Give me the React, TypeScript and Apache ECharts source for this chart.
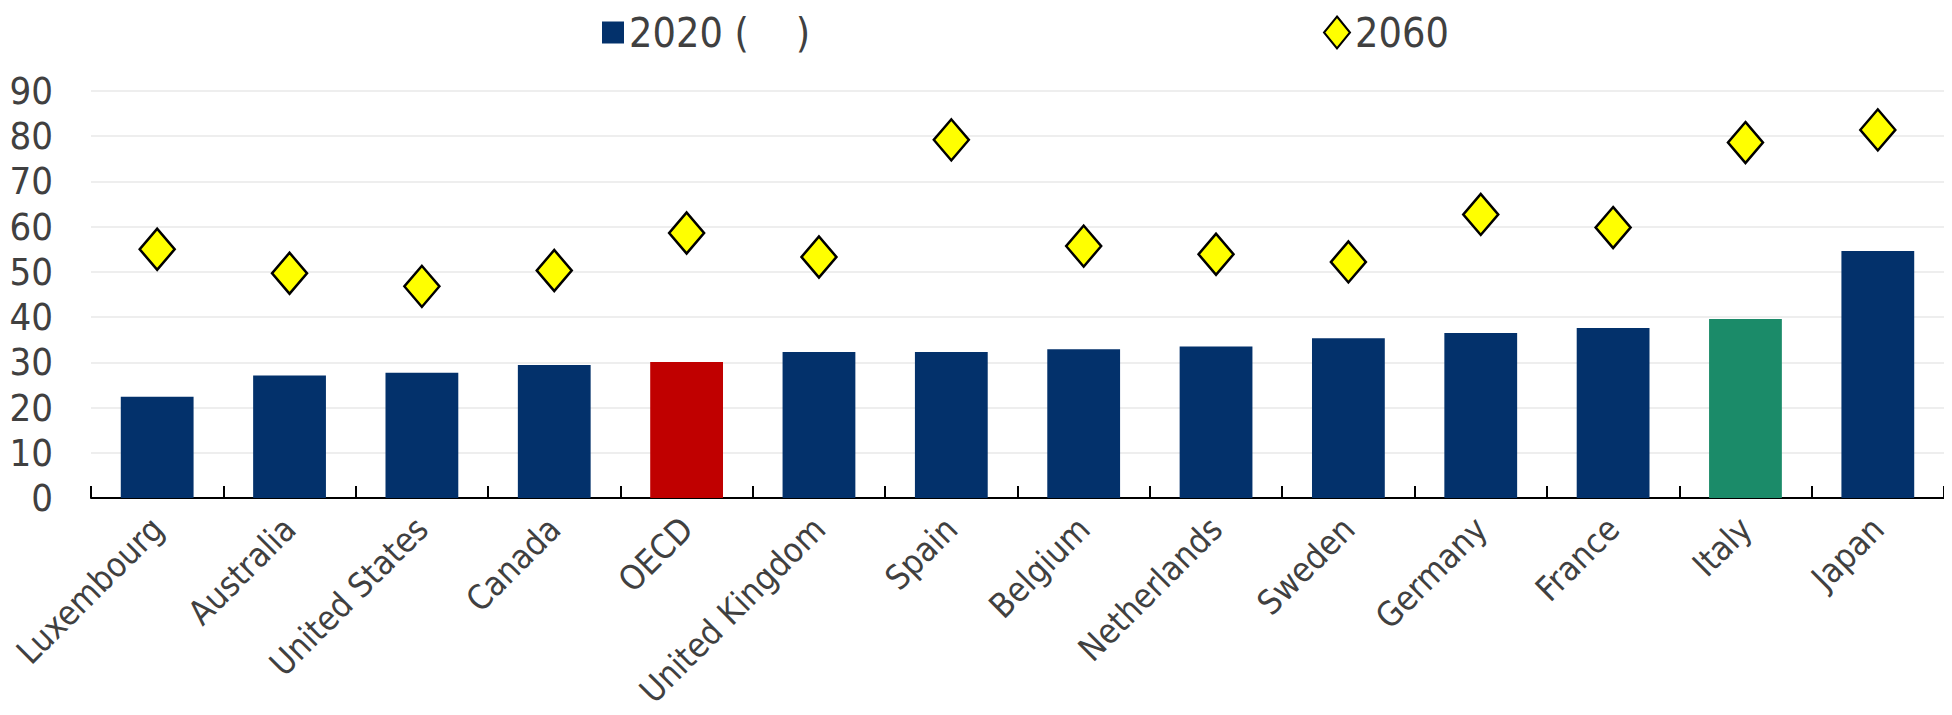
import React, { useEffect, useRef } from "react";
import * as echarts from "echarts";

const categories = [
  "Luxembourg", "Australia", "United States", "Canada", "OECD", "United Kingdom", "Spain",
  "Belgium", "Netherlands", "Sweden", "Germany", "France", "Italy", "Japan",
];
const values2020 = [22.4, 27.1, 27.7, 29.4, 30.1, 32.3, 32.3, 32.9, 33.5, 35.3, 36.5, 37.6, 39.6, 54.6];
const values2060 = [55.0, 49.7, 46.8, 50.3, 58.6, 53.3, 79.2, 55.7, 53.9, 52.2, 62.7, 59.8, 78.6, 81.4];
const seriesNames = ["2020 (    )", "2060"];

const NAVY = "#03316B";
const RED = "#C00000";
const GREEN = "#1B8B69";
const FONT = "'DejaVu Sans Condensed', 'Liberation Sans Narrow', 'Arial Narrow', 'Liberation Sans', sans-serif";
const TEXT = "#404040";

export default function App() {
  const ref = useRef<HTMLDivElement>(null);
  useEffect(() => {
    if (!ref.current) return;
    const chart = echarts.init(ref.current, null, { renderer: "svg" });
    const barColor = (name: string) => (name === "OECD" ? RED : name === "Italy" ? GREEN : NAVY);
    chart.setOption({
      animation: false,
      textStyle: { fontFamily: FONT },
      legend: [
        {
          data: [{ name: seriesNames[0], icon: "rect" }],
          left: 589,
          top: -1,
          itemWidth: 22,
          itemHeight: 22,
          itemGap: 12,
          textStyle: { fontSize: 41, color: TEXT, fontFamily: FONT },
        },
        {
          data: [{ name: seriesNames[1], icon: "diamond", itemStyle: { borderColor: "#000", borderWidth: 2 } }],
          left: 1310,
          top: -1,
          itemWidth: 26,
          itemHeight: 32,
          itemGap: 10,
          textStyle: { fontSize: 41, color: TEXT, fontFamily: FONT },
        },
      ],
      grid: { left: 83, right: 0, top: 83, bottom: 209, containLabel: false, outerBoundsMode: "none" },
      xAxis: {
        type: "category",
        data: categories,
        axisLine: { lineStyle: { color: "#000", width: 2 } },
        axisTick: { show: true, inside: true, length: 12, lineStyle: { color: "#000", width: 2 } },
        axisLabel: {
          rotate: 45,
          interval: 0,
          margin: 25,
          fontSize: 34,
          color: TEXT,
          fontFamily: FONT,
        },
      },
      yAxis: {
        type: "value",
        min: 0,
        max: 90,
        interval: 10,
        axisLine: { show: false },
        axisTick: { show: false },
        axisLabel: { fontSize: 38, color: TEXT, margin: 38, fontFamily: FONT, hideOverlap: false, showMinLabel: true, showMaxLabel: true },
        splitLine: { lineStyle: { color: "#EEEEEE", width: 2 } },
      },
      series: [
        {
          name: seriesNames[0],
          type: "bar",
          barWidth: "55%",
          itemStyle: { color: NAVY },
          data: values2020.map((v, i) => ({ value: v, itemStyle: { color: barColor(categories[i]) } })),
        },
        {
          name: seriesNames[1],
          type: "scatter",
          symbol: "diamond",
          symbolSize: [35, 41],
          itemStyle: { color: "#FFFF00", borderColor: "#000", borderWidth: 2.5, opacity: 1 },
          data: values2060,
          z: 5,
        },
      ],
    });
    return () => chart.dispose();
  }, []);
  return <div ref={ref} style={{ width: 1936, height: 699 }} />;
}
